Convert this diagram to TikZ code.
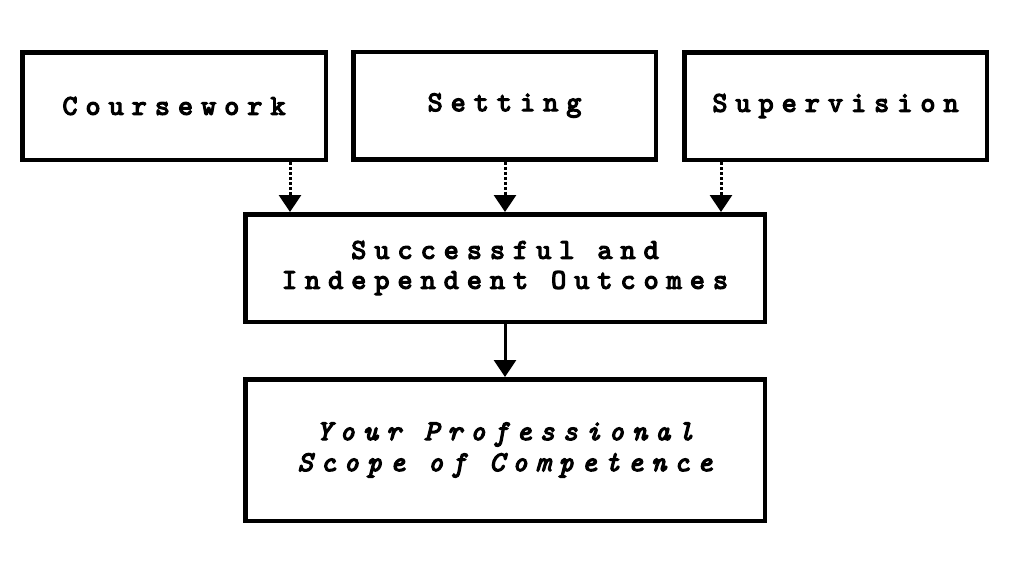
\documentclass[tikz,border=0pt]{standalone}
\usepackage{fontspec}
\newfontfamily\bx[LetterSpace=28.6,FakeBold=4.5]{lmmono10-regular.otf}
\newfontfamily\bxi[LetterSpace=28.6,FakeBold=4.5]{lmmono10-italic.otf}
\usetikzlibrary{arrows.meta}
\begin{document}
\begin{tikzpicture}[x=1pt,y=-1pt,
  box/.style={draw=black, line width=4.5pt, inner sep=0pt, align=center,
    font={\bx\fontsize{28.5}{30}\selectfont}, minimum height=107.5pt},
  ibox/.style={box, font={\bxi\fontsize{28.5}{31}\selectfont}},
  dotarrow/.style={line width=3pt, dash pattern=on 3pt off 2pt,
    -{Triangle[width=22pt,length=17pt]}},
  solidarrow/.style={line width=3pt, -{Triangle[width=22pt,length=17pt]}}]
\fill[white] (0,0) rectangle (1024,576);
\useasboundingbox (0,0) rectangle (1024,576);
\node[box, minimum width=303.5pt] (b1) at (174,106) {Coursework};
\node[box, minimum width=302.5pt] (b2) at (504.5,105.5) {Setting};
\node[box, minimum width=302.5pt] (b3) at (835.5,106) {Supervision};
\node[box, minimum width=519.5pt] (b4) at (505,268) {Successful and\\Independent Outcomes};
\node[ibox, minimum width=519.5pt, minimum height=141.5pt] (b5) at (505,450) {Your Professional\\Scope of Competence};
\coordinate (t1) at ([xshift=47pt]b4.north west);
\coordinate (t2) at (b4.north);
\coordinate (t3) at ([xshift=-46pt]b4.north east);
\draw[dotarrow] (b1.south -| t1) -- (t1);
\draw[dotarrow] (b2.south -| t2) -- (t2);
\draw[dotarrow] (b3.south -| t3) -- (t3);
\draw[solidarrow] (b4.south) -- (b5.north);
\end{tikzpicture}
\end{document}
